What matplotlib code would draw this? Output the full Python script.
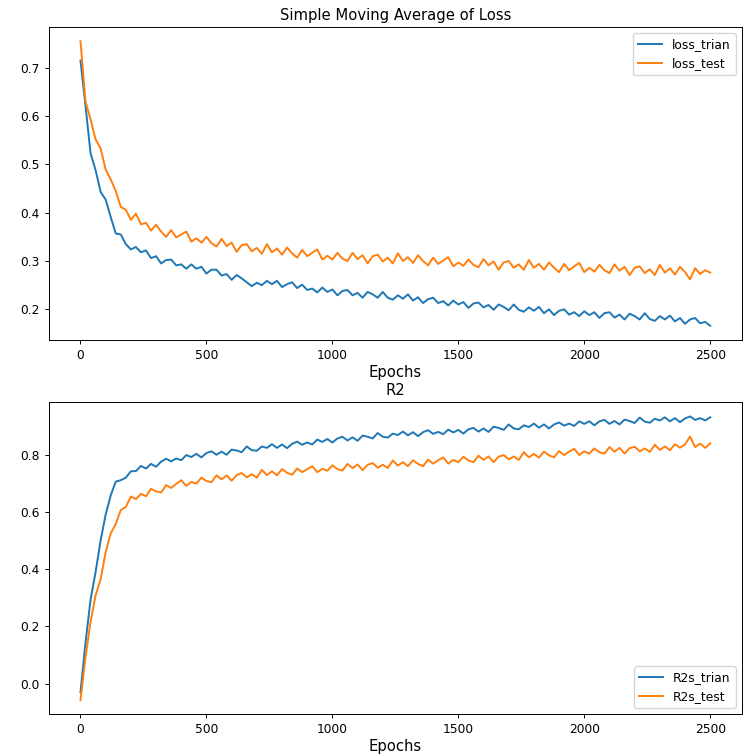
import matplotlib
matplotlib.use("Agg")
import matplotlib.pyplot as plt

epochs = list(range(0, 2501, 20))

loss_trian = [
    .715, .621, .523, .488, .443, .427, .391, .357, .355, .335,
    .324, .329, .318, .322, .306, .310, .295, .302, .303, .291,
    .293, .284, .293, .284, .288, .274, .282, .282, .270, .273,
    .261, .271, .264, .256, .248, .255, .250, .259, .252, .259,
    .246, .252, .256, .244, .251, .240, .243, .235, .245, .236,
    .241, .229, .238, .240, .229, .234, .224, .236, .231, .224,
    .236, .224, .220, .229, .222, .231, .218, .225, .213, .221,
    .224, .213, .217, .208, .218, .210, .215, .203, .212, .214,
    .204, .209, .199, .210, .205, .198, .210, .199, .195, .204,
    .197, .205, .192, .200, .188, .197, .200, .189, .194, .186,
    .196, .188, .194, .182, .192, .194, .183, .189, .179, .191,
    .186, .179, .192, .180, .176, .186, .179, .187, .175, .182,
    .170, .179, .182, .171, .174, .166,
]

loss_test = [
    .755, .630, .593, .552, .533, .489, .469, .445, .412, .406,
    .385, .398, .376, .379, .363, .375, .361, .350, .364, .349,
    .355, .361, .340, .347, .338, .350, .337, .330, .346, .331,
    .338, .319, .333, .335, .320, .327, .315, .335, .318, .326,
    .313, .328, .316, .307, .323, .310, .317, .324, .303, .311,
    .303, .317, .305, .300, .317, .304, .312, .295, .310, .313,
    .299, .307, .295, .316, .300, .308, .296, .312, .300, .291,
    .307, .294, .301, .308, .289, .297, .290, .303, .292, .287,
    .304, .291, .299, .282, .297, .300, .286, .293, .282, .302,
    .286, .294, .282, .297, .286, .277, .294, .281, .289, .296,
    .277, .286, .278, .292, .281, .275, .293, .280, .288, .271,
    .286, .289, .275, .283, .271, .292, .276, .285, .272, .288,
    .277, .262, .285, .273, .281, .276,
]

r2s_trian = [
    -.030, .144, .293, .390, .501, .591, .658, .706, .711, .720,
    .742, .743, .761, .752, .768, .758, .776, .786, .777, .787,
    .781, .799, .792, .803, .791, .806, .812, .800, .811, .800,
    .818, .815, .809, .829, .816, .814, .829, .824, .837, .824,
    .836, .823, .838, .846, .835, .843, .836, .853, .845, .855,
    .843, .857, .863, .850, .861, .849, .867, .863, .857, .876,
    .863, .860, .874, .869, .881, .868, .879, .865, .879, .886,
    .873, .880, .872, .888, .878, .887, .874, .889, .894, .881,
    .892, .880, .898, .894, .887, .906, .892, .889, .903, .897,
    .909, .895, .906, .892, .906, .913, .902, .909, .901, .917,
    .908, .917, .903, .917, .922, .908, .918, .906, .923, .918,
    .911, .930, .916, .912, .926, .920, .931, .917, .928, .914,
    .927, .934, .922, .928, .920, .931,
]

r2s_test = [
    -.058, .092, .216, .308, .365, .460, .525, .558, .607, .617,
    .654, .645, .663, .655, .681, .672, .668, .694, .684, .698,
    .711, .691, .705, .699, .720, .708, .704, .728, .714, .728,
    .709, .729, .736, .721, .732, .720, .747, .729, .742, .728,
    .750, .737, .730, .752, .739, .750, .760, .739, .751, .744,
    .763, .750, .745, .768, .753, .766, .746, .765, .771, .755,
    .765, .754, .780, .762, .774, .760, .781, .768, .760, .783,
    .769, .781, .791, .769, .782, .774, .793, .780, .774, .797,
    .782, .794, .774, .793, .799, .784, .794, .782, .809, .791,
    .803, .790, .811, .798, .791, .813, .799, .811, .821, .799,
    .812, .804, .822, .809, .804, .827, .811, .824, .804, .823,
    .828, .812, .822, .810, .835, .817, .829, .816, .837, .825,
    .836, .864, .827, .839, .824, .840,
]

FS_TICK = 8.8
FS_LABEL = 10.6
LW = 1.4

plt.rcParams["font.family"] = ["DejaVu Sans"]
fig = plt.figure(figsize=(7.47, 7.56), dpi=100)

ax1 = fig.add_axes([0.0656, 0.5503, 0.9273, 0.4140])
ax2 = fig.add_axes([0.0656, 0.0552, 0.9273, 0.4127])

ax1.plot(epochs, loss_trian, color="#1f77b4", lw=LW, label="loss_trian")
ax1.plot(epochs, loss_test, color="#ff7f0e", lw=LW, label="loss_test")
ax1.set_title("Simple Moving Average of Loss", fontsize=FS_LABEL, pad=5)
ax1.set_xlabel("Epochs", fontsize=FS_LABEL, labelpad=2)
ax1.legend(loc="upper right", fontsize=FS_TICK)
ax1.set_yticks([0.2, 0.3, 0.4, 0.5, 0.6, 0.7])

ax2.plot(epochs, r2s_trian, color="#1f77b4", lw=LW, label="R2s_trian")
ax2.plot(epochs, r2s_test, color="#ff7f0e", lw=LW, label="R2s_test")
ax2.set_title("R2", fontsize=FS_LABEL, pad=5)
ax2.set_xlabel("Epochs", fontsize=FS_LABEL, labelpad=2)
ax2.legend(loc="lower right", fontsize=FS_TICK)
ax2.set_yticks([0.0, 0.2, 0.4, 0.6, 0.8])

for ax in (ax1, ax2):
    ax.set_xticks([0, 500, 1000, 1500, 2000, 2500])
    ax.tick_params(labelsize=FS_TICK, length=3.1, width=0.7)
    for s in ax.spines.values():
        s.set_linewidth(0.7)

fig.savefig("out.png", dpi=100)
